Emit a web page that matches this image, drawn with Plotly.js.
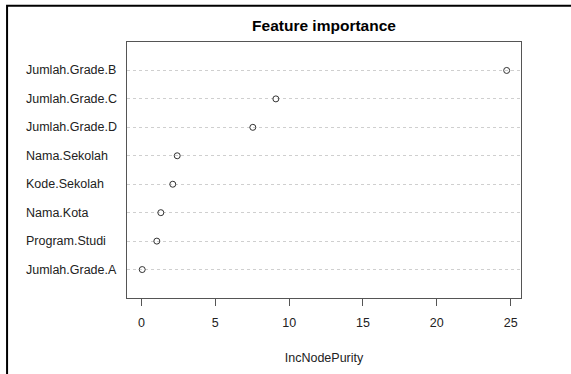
<!DOCTYPE html>
<html>
<head>
<meta charset="utf-8">
<script src="https://cdn.plot.ly/plotly-3.0.1.min.js"></script>
<style>html,body{margin:0;padding:0;background:#fff;}#chart{width:571px;height:374px;}</style>
</head>
<body>
<div id="chart"></div>
<script>
// Categories ordered bottom-to-top as in the dot chart
const features = ["Jumlah.Grade.A", "Program.Studi", "Nama.Kota", "Kode.Sekolah",
                  "Nama.Sekolah", "Jumlah.Grade.D", "Jumlah.Grade.C", "Jumlah.Grade.B"];
const incNodePurity = [0.05, 1.04, 1.31, 2.12, 2.42, 7.54, 9.1, 24.73];
const xTicks = [0, 5, 10, 15, 20, 25];
const chartTitle = "Feature importance";
const xTitle = "IncNodePurity";

const trace = {
  type: "scatter",
  mode: "markers",
  x: incNodePurity,
  y: features,
  marker: {symbol: "circle-open", size: 6, color: "#333", line: {width: 1, color: "#333"}},
  hoverinfo: "x+y"
};

const font = {family: "Liberation Sans, Arial, sans-serif", size: 12.5, color: "#222"};

// Left-aligned category labels, as R's dotchart draws them
const labelAnnotations = features.map(f => ({
  xref: "paper", yref: "y", x: -0.262, y: f, text: f,
  xanchor: "left", yanchor: "middle", showarrow: false, font: font
}));

const layout = {
  width: 571, height: 374,
  margin: {l: 126.5, r: 50.3, t: 41.7, b: 76.3, pad: 0},
  paper_bgcolor: "#fff", plot_bgcolor: "#fff",
  showlegend: false,
  font: font,
  title: {text: chartTitle, font: {family: "Liberation Sans, Arial, sans-serif", size: 15.5, color: "#000", weight: "bold"},
          x: 0.5, xref: "paper", y: 1, yref: "container", yanchor: "top", pad: {t: 20}},
  xaxis: {
    range: [-0.98, 25.7], tickvals: xTicks, ticktext: xTicks.map(String),
    ticks: "outside", ticklen: 7, tickwidth: 1, tickcolor: "#555",
    showline: true, mirror: true, linecolor: "#555", linewidth: 1,
    showgrid: false, zeroline: false,
    ticklabelstandoff: 6,
    tickfont: font,
    title: {text: xTitle, font: font, standoff: 24}
  },
  yaxis: {
    type: "category", categoryorder: "array", categoryarray: features,
    range: [-1, 8],
    ticks: "", showticklabels: false,
    showline: true, mirror: true, linecolor: "#555", linewidth: 1,
    showgrid: true, gridcolor: "#cfcfcf", griddash: "dot", gridwidth: 1,
    zeroline: false
  },
  annotations: labelAnnotations,
  shapes: [
    {type: "rect", xref: "paper", yref: "paper", x0: -0.3044, x1: 2, y0: -1, y1: 1.1414,
     line: {color: "#000", width: 2}, fillcolor: "rgba(0,0,0,0)", layer: "below"}
  ]
};

Plotly.newPlot("chart", [trace], layout, {displayModeBar: false, staticPlot: true});
</script>
</body>
</html>
